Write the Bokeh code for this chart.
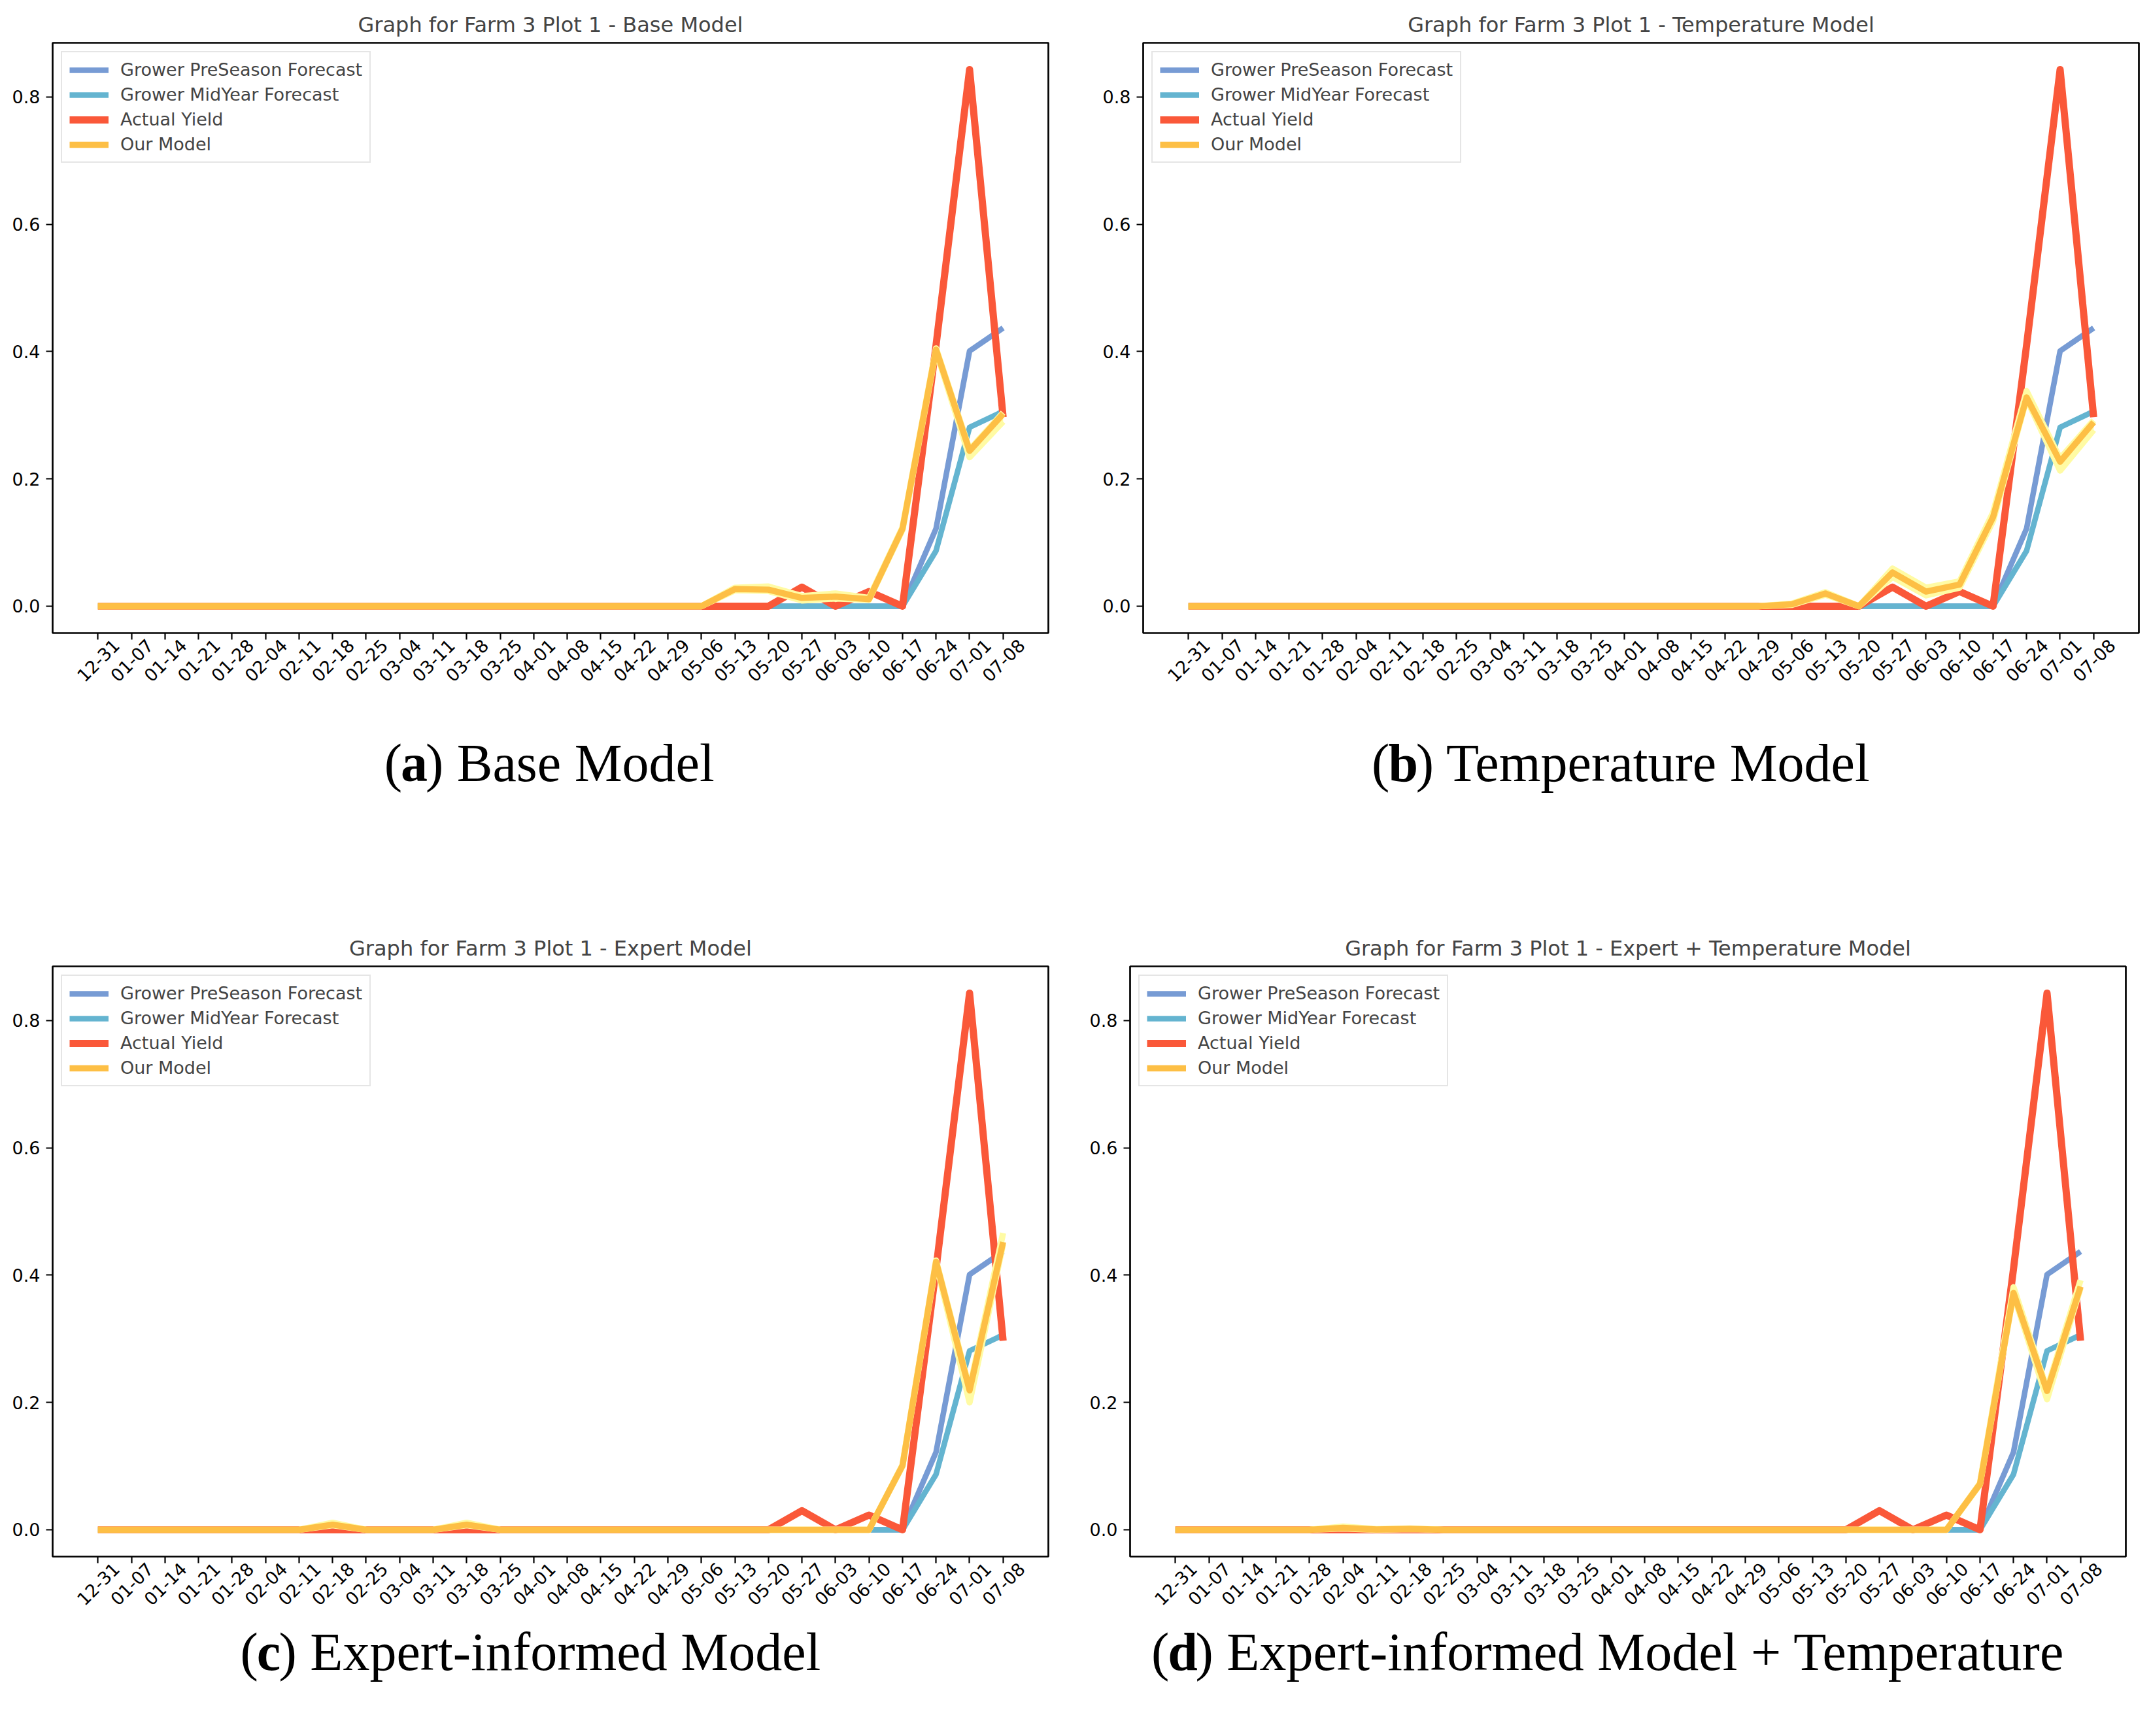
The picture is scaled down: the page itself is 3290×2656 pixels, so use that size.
import math
from bokeh.plotting import figure
from bokeh.models import Range1d, FixedTicker, NumeralTickFormatter, LinearAxis
from bokeh.layouts import row, column
from bokeh.embed import file_html
from bokeh.resources import INLINE
from bokeh.core.properties import value

# ---------------- data ----------------
dates = ["12-31", "01-07", "01-14", "01-21", "01-28", "02-04", "02-11", "02-18",
         "02-25", "03-04", "03-11", "03-18", "03-25", "04-01", "04-08", "04-15",
         "04-22", "04-29", "05-06", "05-13", "05-20", "05-27", "06-03", "06-10",
         "06-17", "06-24", "07-01", "07-08"]

y_ticks = [0.0, 0.2, 0.4, 0.6, 0.8]

grower_preseason = [0, 0, 0, 0, 0, 0, 0, 0, 0, 0, 0, 0, 0, 0, 0, 0, 0, 0, 0, 0,
                    0, 0, 0, 0, 0, 0.122, 0.401, 0.437]
grower_midyear = [0, 0, 0, 0, 0, 0, 0, 0, 0, 0, 0, 0, 0, 0, 0, 0, 0, 0, 0, 0,
                  0, 0, 0, 0, 0, 0.087, 0.281, 0.306]
actual_yield = [0, 0, 0, 0, 0, 0, 0, 0, 0, 0, 0, 0, 0, 0, 0, 0, 0, 0, 0, 0,
                0, 0.030, 0, 0.023, 0, 0.41, 0.843, 0.297]

# Our Model per panel, with its pale band (lower / upper)
model_base = [0, 0, 0, 0, 0, 0, 0, 0, 0, 0, 0, 0, 0, 0, 0, 0, 0, 0, 0, 0.027,
              0.026, 0.013, 0.015, 0.011, 0.122, 0.403, 0.244, 0.302]
model_base_lo = [0, 0, 0, 0, 0, 0, 0, 0, 0, 0, 0, 0, 0, 0, 0, 0, 0, 0, 0, 0.025,
                 0.024, 0.009, 0.012, 0.010, 0.120, 0.401, 0.234, 0.290]
model_base_hi = [0, 0, 0, 0, 0, 0, 0, 0, 0, 0, 0, 0, 0, 0, 0, 0, 0, 0, 0, 0.029,
                 0.031, 0.016, 0.020, 0.013, 0.124, 0.405, 0.246, 0.304]

model_temp = [0, 0, 0, 0, 0, 0, 0, 0, 0, 0, 0, 0, 0, 0, 0, 0, 0, 0, 0.003, 0.020,
              0.0, 0.053, 0.023, 0.034, 0.140, 0.328, 0.227, 0.289]
model_temp_lo = [0, 0, 0, 0, 0, 0, 0, 0, 0, 0, 0, 0, 0, 0, 0, 0, 0, 0, 0.002, 0.018,
                 0.0, 0.046, 0.017, 0.029, 0.134, 0.326, 0.213, 0.277]
model_temp_hi = [0, 0, 0, 0, 0, 0, 0, 0, 0, 0, 0, 0, 0, 0, 0, 0, 0, 0, 0.004, 0.022,
                 0.0, 0.059, 0.029, 0.039, 0.147, 0.338, 0.232, 0.292]

model_expert = [0, 0, 0, 0, 0, 0, 0, 0.008, 0, 0, 0, 0.008, 0, 0, 0, 0, 0, 0, 0, 0,
                0, 0, 0, 0, 0.101, 0.421, 0.219, 0.452]
model_expert_lo = [0, 0, 0, 0, 0, 0, 0, 0.007, 0, 0, 0, 0.007, 0, 0, 0, 0, 0, 0, 0, 0,
                   0, 0, 0, 0, 0.100, 0.419, 0.200, 0.449]
model_expert_hi = [0, 0, 0, 0, 0, 0, 0, 0.011, 0, 0, 0, 0.011, 0, 0, 0, 0, 0, 0, 0, 0,
                   0, 0, 0, 0, 0.102, 0.423, 0.222, 0.466]

model_expert_temp = [0, 0, 0, 0, 0, 0.003, 0.0005, 0.0015, 0, 0, 0, 0, 0, 0, 0, 0, 0, 0,
                     0, 0, 0, 0, 0, 0, 0.072, 0.372, 0.218, 0.382]
model_expert_temp_lo = [0, 0, 0, 0, 0, 0.002, 0.0, 0.001, 0, 0, 0, 0, 0, 0, 0, 0, 0, 0,
                        0, 0, 0, 0, 0, 0, 0.071, 0.370, 0.205, 0.380]
model_expert_temp_hi = [0, 0, 0, 0, 0, 0.005, 0.001, 0.002, 0, 0, 0, 0, 0, 0, 0, 0, 0, 0,
                        0, 0, 0, 0, 0, 0, 0.073, 0.381, 0.221, 0.392]

titles = ["Graph for Farm 3 Plot 1 - Base Model",
          "Graph for Farm 3 Plot 1 - Temperature Model",
          "Graph for Farm 3 Plot 1 - Expert Model",
          "Graph for Farm 3 Plot 1 - Expert + Temperature Model"]
caption_letters = ["a", "b", "c", "d"]
caption_texts = ["Base Model", "Temperature Model", "Expert-informed Model",
                 "Expert-informed Model + Temperature"]
legend_names = ["Grower PreSeason Forecast", "Grower MidYear Forecast",
                "Actual Yield", "Our Model"]

# ---------------- style ----------------
BLUE = "#779BD4"
TEAL = "#64B4D0"
RED = "#FA5839"
YELLOW = "#FDBF45"
PALE = "#FFFBA4"
SANS = "DejaVu Sans"
SERIF = "Liberation Serif"

FRAME_W = 1523
FRAME_H = 903
PAD_X = 1.35            # matplotlib-like 5% margin in index units
LABEL_SHIFT = 0.55      # centre rotated tick labels under their ticks
Y0, Y1 = -0.04215, 0.885
CAP_SIZE = 82
BT = 65                 # space above frame (title)
BB = 95                 # space below frame (ticks + labels)

# Times-compatible advance widths (per 1000 em) for caption layout
REG_W = {' ': 250, '(': 333, ')': 333, '+': 564, '-': 333, 'B': 667, 'E': 611,
         'M': 889, 'T': 611, 'a': 444, 'd': 500, 'e': 444, 'f': 333, 'i': 278,
         'l': 278, 'm': 778, 'n': 500, 'o': 500, 'p': 500, 'r': 333, 's': 389,
         't': 278, 'u': 500, 'x': 500}
BOLD_W = {'a': 500, 'b': 556, 'c': 444, 'd': 556}


def text_w(s, table):
    return sum(table.get(ch, 500) for ch in s) / 1000.0 * CAP_SIZE


def make_main(idx, model, lo, hi, width, bl):
    xs = list(range(len(dates)))
    br = width - bl - FRAME_W
    p = figure(width=width, height=BT + FRAME_H + BB, output_backend="svg",
               toolbar_location=None,
               x_range=Range1d(-PAD_X, len(dates) - 1 + PAD_X),
               y_range=Range1d(Y0, Y1),
               min_border_left=bl, min_border_right=br,
               min_border_top=BT, min_border_bottom=BB,
               background_fill_color="white", border_fill_color="white")
    p.title.text = titles[idx]
    p.title.text_font = SANS
    p.title.text_font_size = "32px"
    p.title.text_font_style = "normal"
    p.title.align = "center"
    p.title.standoff = 17

    p.xgrid.visible = False
    p.ygrid.visible = False
    p.outline_line_color = "black"
    p.outline_line_width = 2.7
    p.outline_line_alpha = 1.0

    for ax in (p.xaxis[0], p.yaxis[0]):
        ax.axis_line_color = None
        ax.major_tick_line_color = "black"
        ax.major_tick_line_width = 2.2
        ax.major_tick_in = 0
        ax.major_tick_out = 10
        ax.minor_tick_line_color = None
        ax.major_label_text_font = SANS
        ax.major_label_text_font_size = "27px"
        ax.major_label_text_color = "black"
    # primary x axis: ticks only
    p.xaxis.ticker = FixedTicker(ticks=xs, minor_ticks=[])
    p.xaxis.major_label_text_alpha = 0
    p.xaxis.major_label_text_font_size = "1px"
    p.xaxis.major_label_standoff = 0
    # label axis: same ticks, labels centred under ticks
    p.extra_x_ranges = {"lab": Range1d(-PAD_X - LABEL_SHIFT, len(dates) - 1 + PAD_X - LABEL_SHIFT)}
    lab = LinearAxis(x_range_name="lab", ticker=FixedTicker(ticks=xs, minor_ticks=[]),
                     major_label_overrides={i: d for i, d in enumerate(dates)},
                     major_label_orientation=math.pi / 4,
                     major_label_standoff=4,
                     major_label_text_font=SANS, major_label_text_font_size="27px",
                     major_label_text_color="black",
                     axis_line_color=None, major_tick_line_color=None,
                     minor_tick_line_color=None, major_tick_out=0, major_tick_in=0)
    p.add_layout(lab, "below")

    p.yaxis.ticker = FixedTicker(ticks=y_ticks, minor_ticks=[])
    p.yaxis.formatter = NumeralTickFormatter(format="0.0")
    p.yaxis.major_label_standoff = 9

    p.line(xs, grower_preseason, line_color=BLUE, line_width=8.5,
           line_join="round", legend_label=legend_names[0])
    p.line(xs, grower_midyear, line_color=TEAL, line_width=8.5,
           line_join="round", legend_label=legend_names[1])
    p.line(xs, actual_yield, line_color=RED, line_width=11,
           line_join="round", legend_label=legend_names[2])
    p.varea(x=xs, y1=lo, y2=hi, fill_color=PALE)
    p.line(xs, lo, line_color=PALE, line_width=9.5, line_join="round")
    p.line(xs, hi, line_color=PALE, line_width=9.5, line_join="round")
    p.line(xs, model, line_color=YELLOW, line_width=9.5,
           line_join="round", legend_label=legend_names[3])

    lg = p.legend[0]
    lg.location = "top_left"
    lg.margin = 13
    lg.padding = 11
    lg.spacing = 7
    lg.glyph_width = 60
    lg.glyph_height = 30
    lg.label_standoff = 18
    lg.label_text_font = SANS
    lg.label_text_font_size = "27px"
    lg.border_line_color = "#cccccc"
    lg.border_line_width = 2.7
    lg.background_fill_alpha = 0.8
    return p


def make_caption(idx, width, height, center, base):
    c = figure(width=width, height=height, output_backend="svg", toolbar_location=None,
               x_range=Range1d(0, width), y_range=Range1d(height, 0),
               x_axis_location=None, y_axis_location=None, title=None,
               min_border=0, min_border_left=0, min_border_right=0,
               min_border_top=0, min_border_bottom=0,
               background_fill_color="white", border_fill_color="white")
    c.grid.visible = False
    c.outline_line_color = None
    letter = caption_letters[idx]
    rest = ") " + caption_texts[idx]
    w_open = text_w("(", REG_W)
    w_let = text_w(letter, BOLD_W)
    w_rest = text_w(rest, REG_W)
    x0 = center - (w_open + w_let + w_rest) / 2.0
    common = dict(text_font=value(SERIF), text_font_size=value(f"{CAP_SIZE}px"),
                  text_color="black", text_baseline="alphabetic", text_align="left")
    c.text(x=[x0, x0 + w_open + w_let], y=[base, base], text=["(", rest],
           text_font_style="normal", **common)
    c.text(x=[x0 + w_open], y=[base], text=[letter], text_font_style="bold", **common)
    return c


WL, WR = 1648, 1642
ROW1, ROW2 = 1413, 1200
MAIN_H = BT + FRAME_H + BB
CAP_CENTERS = [804, 2412 - WL, 757, 2387 - WL]
CAP_BASE1, CAP_BASE2 = 1167, 2527

pa = make_main(0, model_base, model_base_lo, model_base_hi, WL, 80)
pb = make_main(1, model_temp, model_temp_lo, model_temp_hi, WR, 100)
pc = make_main(2, model_expert, model_expert_lo, model_expert_hi, WL, 80)
pd = make_main(3, model_expert_temp, model_expert_temp_lo, model_expert_temp_hi, WR, 80)

ca = make_caption(0, WL, ROW1 - MAIN_H, CAP_CENTERS[0], CAP_BASE1 - MAIN_H)
cb = make_caption(1, WR, ROW1 - MAIN_H, CAP_CENTERS[1], CAP_BASE1 - MAIN_H)
cc = make_caption(2, WL, ROW2 - MAIN_H, CAP_CENTERS[2], CAP_BASE2 - ROW1 - MAIN_H)
cd = make_caption(3, WR, ROW2 - MAIN_H, CAP_CENTERS[3], CAP_BASE2 - ROW1 - MAIN_H)

layout = column(row(column(pa, ca), column(pb, cb)),
                row(column(pc, cc), column(pd, cd)))
open("out.html", "w").write(file_html(layout, INLINE))
